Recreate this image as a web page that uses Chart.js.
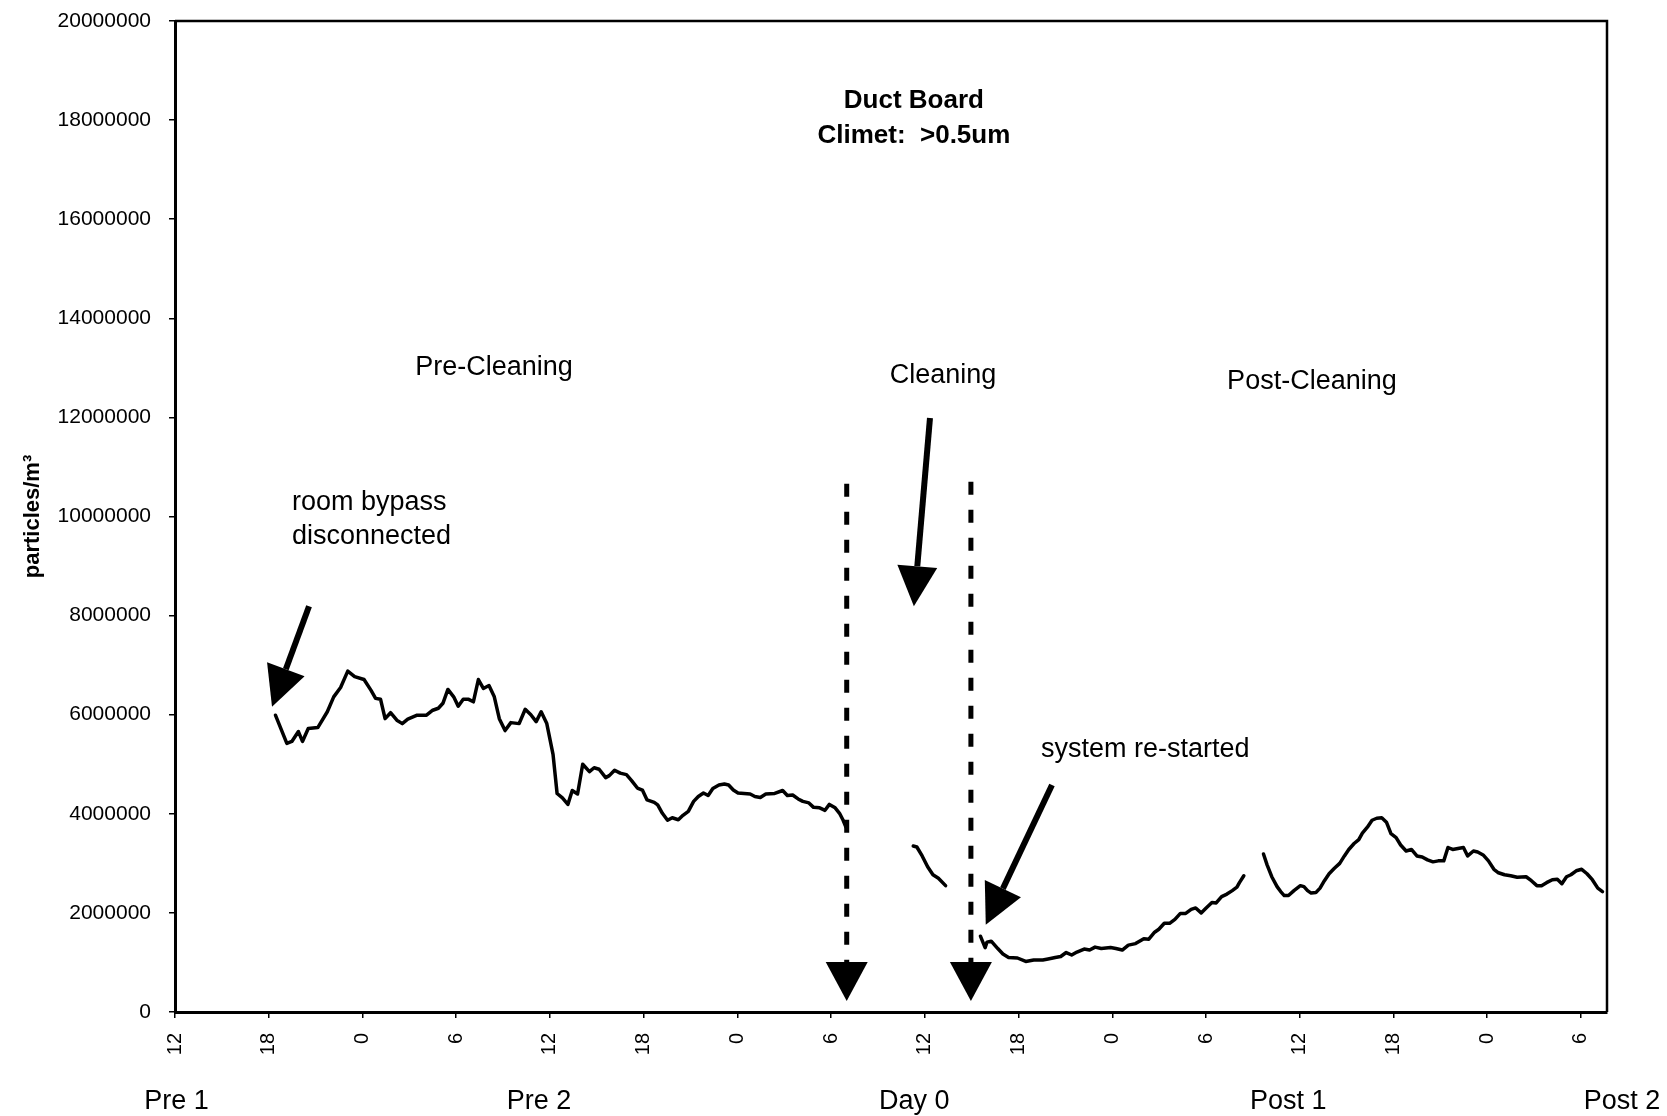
<!DOCTYPE html>
<html>
<head>
<meta charset="utf-8">
<script src="https://cdn.jsdelivr.net/npm/chart.js@4.4.1/dist/chart.umd.min.js"></script>
<style>
  html, body { margin: 0; padding: 0; background: #fff; }
  canvas { display: block; }
</style>
</head>
<body>
<canvas id="chart" width="1667" height="1116"></canvas>
<script>
// Hours since 12:00 on the first sampling day, and particle counts (>0.5um, particles/m3)
const preHours = [6.43, 7.16, 7.48, 7.9, 8.16, 8.53, 9.14, 9.75, 10.16, 10.6, 11.06, 11.5, 12.1, 12.55, 12.84, 13.16, 13.45, 13.8, 14.2, 14.55, 14.9, 15.5, 16.1, 16.5, 16.86, 17.15, 17.47, 17.84, 18.13, 18.45, 18.8, 19.1, 19.42, 19.74, 20.1, 20.44, 20.76, 21.13, 21.5, 22.03, 22.42, 22.78, 23.12, 23.44, 23.8, 24.2, 24.46, 24.8, 25.15, 25.43, 25.77, 26.1, 26.53, 26.83, 27.15, 27.57, 27.8, 28.14, 28.5, 28.9, 29.23, 29.6, 29.92, 30.22, 30.68, 30.9, 31.2, 31.53, 31.83, 32.22, 32.52, 32.86, 33.2, 33.5, 33.83, 34.13, 34.43, 34.82, 35.17, 35.44, 35.74, 36.04, 36.43, 36.82, 37.12, 37.47, 37.82, 38.39, 38.9, 39.2, 39.54, 39.89, 40.19, 40.58, 40.88, 41.27, 41.61, 41.89, 42.26, 42.54, 42.77, 42.95];
const preCounts = [5990000, 5420000, 5460000, 5660000, 5460000, 5720000, 5740000, 6060000, 6360000, 6550000, 6880000, 6770000, 6710000, 6490000, 6330000, 6310000, 5920000, 6040000, 5890000, 5820000, 5910000, 5990000, 5990000, 6090000, 6130000, 6230000, 6510000, 6360000, 6170000, 6310000, 6310000, 6260000, 6710000, 6530000, 6590000, 6360000, 5920000, 5680000, 5840000, 5820000, 6110000, 6000000, 5860000, 6060000, 5820000, 5200000, 4410000, 4320000, 4190000, 4470000, 4400000, 5000000, 4850000, 4930000, 4900000, 4730000, 4770000, 4880000, 4820000, 4790000, 4670000, 4520000, 4480000, 4280000, 4230000, 4180000, 4010000, 3870000, 3920000, 3880000, 3970000, 4050000, 4250000, 4350000, 4420000, 4370000, 4510000, 4580000, 4600000, 4580000, 4480000, 4420000, 4410000, 4400000, 4350000, 4330000, 4400000, 4410000, 4470000, 4370000, 4380000, 4300000, 4250000, 4220000, 4130000, 4120000, 4070000, 4190000, 4120000, 4010000, 3870000, 3730000];

const cleaningHours = [47.26, 47.49, 47.83, 48.18, 48.52, 48.87, 49.33];
const cleaningCounts = [3350000, 3330000, 3150000, 2930000, 2770000, 2700000, 2550000];

const restartHours = [51.56, 51.86, 51.98, 52.25, 52.67, 53.0, 53.36, 53.93, 54.46, 54.97, 55.55, 55.89, 56.35, 56.7, 57.05, 57.4, 57.74, 58.2, 58.55, 58.9, 59.3, 59.89, 60.23, 60.64, 61.03, 61.49, 62.02, 62.34, 62.71, 62.98, 63.33, 63.67, 64.01, 64.36, 64.7, 65.05, 65.34, 65.69, 66.01, 66.38, 66.65, 67.0, 67.34, 67.68, 67.98, 68.14, 68.42];
const restartCounts = [1530000, 1300000, 1410000, 1430000, 1280000, 1170000, 1100000, 1090000, 1020000, 1050000, 1050000, 1070000, 1100000, 1120000, 1200000, 1150000, 1210000, 1270000, 1250000, 1310000, 1280000, 1300000, 1280000, 1250000, 1350000, 1380000, 1480000, 1470000, 1610000, 1670000, 1790000, 1790000, 1870000, 1990000, 1990000, 2070000, 2100000, 2000000, 2100000, 2210000, 2200000, 2330000, 2380000, 2450000, 2520000, 2610000, 2750000];

const postHours = [69.68, 69.91, 70.21, 70.55, 70.78, 71.01, 71.28, 71.63, 72.04, 72.27, 72.5, 72.73, 73.03, 73.3, 73.58, 73.88, 74.22, 74.56, 74.86, 75.14, 75.48, 75.78, 76.01, 76.33, 76.63, 76.93, 77.25, 77.55, 77.84, 78.17, 78.46, 78.81, 79.15, 79.5, 79.84, 80.18, 80.53, 80.87, 81.22, 81.49, 81.79, 82.13, 82.48, 82.75, 83.12, 83.39, 83.74, 84.08, 84.43, 84.72, 85.11, 85.5, 85.92, 86.49, 86.83, 87.18, 87.48, 87.8, 88.17, 88.49, 88.78, 89.08, 89.36, 89.7, 90.05, 90.39, 90.73, 91.08, 91.38];
const postCounts = [3190000, 2970000, 2730000, 2530000, 2430000, 2350000, 2350000, 2450000, 2550000, 2530000, 2450000, 2400000, 2410000, 2500000, 2650000, 2790000, 2900000, 3000000, 3150000, 3280000, 3400000, 3480000, 3610000, 3730000, 3870000, 3910000, 3920000, 3830000, 3600000, 3520000, 3370000, 3250000, 3280000, 3150000, 3130000, 3070000, 3030000, 3050000, 3050000, 3320000, 3280000, 3300000, 3320000, 3150000, 3250000, 3230000, 3170000, 3050000, 2880000, 2810000, 2770000, 2750000, 2720000, 2730000, 2650000, 2550000, 2550000, 2610000, 2670000, 2680000, 2590000, 2730000, 2770000, 2850000, 2880000, 2790000, 2670000, 2500000, 2430000];

// Axis ticks and labels
const hourTicks = [0, 6, 12, 18, 24, 30, 36, 42, 48, 54, 60, 66, 72, 78, 84, 90];
const hourTickLabels = ['12', '18', '0', '6', '12', '18', '0', '6', '12', '18', '0', '6', '12', '18', '0', '6'];
const countTicks = [0, 2000000, 4000000, 6000000, 8000000, 10000000, 12000000, 14000000, 16000000, 18000000, 20000000];
const dayLabels = ['Pre 1', 'Pre 2', 'Day 0', 'Post 1', 'Post 2'];
const dayLabelHours = [0.1, 23.3, 47.33, 71.26, 92.63];

// Text notes placed in axis units (hours, particles/m3)
const notes = [
  { text: 'Duct Board', h: 47.3, v: 18390000, bold: true, align: 'center' },
  { text: 'Climet:  >0.5um', h: 47.3, v: 17680000, bold: true, align: 'center' },
  { text: 'Pre-Cleaning', h: 20.42, v: 13000000, bold: false, align: 'center' },
  { text: 'Cleaning', h: 49.16, v: 12840000, bold: false, align: 'center' },
  { text: 'Post-Cleaning', h: 72.78, v: 12730000, bold: false, align: 'center' },
  { text: 'room bypass', h: 7.49, v: 10290000, bold: false, align: 'left' },
  { text: 'disconnected', h: 7.49, v: 9590000, bold: false, align: 'left' },
  { text: 'system re-started', h: 55.43, v: 5290000, bold: false, align: 'left' }
];

// Arrows: tail and tip in axis units
const arrows = [
  { from: [8.58, 8190000], to: [6.21, 6160000], dashed: false },
  { from: [48.33, 11990000], to: [47.3, 8190000], dashed: false },
  { from: [56.14, 4580000], to: [51.9, 1760000], dashed: false },
  { from: [43.0, 10660000], to: [43.0, 220000], dashed: true },
  { from: [50.95, 10700000], to: [50.95, 220000], dashed: true }
];

const FONT = '"Liberation Sans", Arial, sans-serif';

function toPoints(hs, vs) {
  return hs.map((h, i) => ({ x: h, y: vs[i] }));
}

function lineSet(hs, vs) {
  return {
    data: toPoints(hs, vs),
    borderColor: '#000',
    borderWidth: 3.5,
    pointRadius: 0,
    tension: 0,
    fill: false,
    borderJoinStyle: 'round',
    borderCapStyle: 'round'
  };
}

function drawArrow(ctx, x1, y1, x2, y2, opts) {
  const ang = Math.atan2(y2 - y1, x2 - x1);
  const bx = x2 - opts.headLen * Math.cos(ang);
  const by = y2 - opts.headLen * Math.sin(ang);
  const hw = opts.headWidth / 2;
  ctx.save();
  ctx.strokeStyle = '#000';
  ctx.fillStyle = '#000';
  ctx.lineWidth = opts.width;
  ctx.setLineDash(opts.dash || []);
  ctx.beginPath();
  ctx.moveTo(x1, y1);
  ctx.lineTo(bx, by);
  ctx.stroke();
  ctx.setLineDash([]);
  ctx.beginPath();
  ctx.moveTo(x2, y2);
  ctx.lineTo(bx + hw * Math.sin(ang), by - hw * Math.cos(ang));
  ctx.lineTo(bx - hw * Math.sin(ang), by + hw * Math.cos(ang));
  ctx.closePath();
  ctx.fill();
  ctx.restore();
}

const decorations = {
  id: 'decorations',
  beforeDraw(chart) {
    const { ctx, width, height } = chart;
    ctx.save();
    ctx.fillStyle = '#fff';
    ctx.fillRect(0, 0, width, height);
    ctx.restore();
  },
  afterDraw(chart) {
    const { ctx, chartArea: a, scales: { x, y } } = chart;
    ctx.save();
    // top and right edges of the plot frame
    ctx.strokeStyle = '#000';
    ctx.lineWidth = 2.5;
    ctx.beginPath();
    ctx.moveTo(a.left, a.top);
    ctx.lineTo(a.right, a.top);
    ctx.lineTo(a.right, a.bottom);
    ctx.stroke();

    // notes
    ctx.fillStyle = '#000';
    ctx.textBaseline = 'middle';
    notes.forEach(n => {
      ctx.font = (n.bold ? 'bold 26px ' : '27px ') + FONT;
      ctx.textAlign = n.align;
      ctx.fillText(n.text, x.getPixelForValue(n.h), y.getPixelForValue(n.v));
    });

    // arrows
    arrows.forEach(ar => {
      const x1 = x.getPixelForValue(ar.from[0]), y1 = y.getPixelForValue(ar.from[1]);
      const x2 = x.getPixelForValue(ar.to[0]), y2 = y.getPixelForValue(ar.to[1]);
      if (ar.dashed) {
        drawArrow(ctx, x1, y1, x2, y2, { width: 5, headLen: 39, headWidth: 42, dash: [13, 15] });
      } else {
        drawArrow(ctx, x1, y1, x2, y2, { width: 6, headLen: 40, headWidth: 40 });
      }
    });

    // day labels under the time axis
    ctx.font = '27px ' + FONT;
    ctx.textAlign = 'center';
    ctx.textBaseline = 'middle';
    dayLabels.forEach((t, i) => {
      ctx.fillText(t, x.getPixelForValue(dayLabelHours[i]), a.bottom + 90);
    });
    ctx.restore();
  }
};

new Chart(document.getElementById('chart'), {
  type: 'line',
  data: {
    datasets: [
      lineSet(preHours, preCounts),
      lineSet(cleaningHours, cleaningCounts),
      lineSet(restartHours, restartCounts),
      lineSet(postHours, postCounts)
    ]
  },
  options: {
    responsive: false,
    devicePixelRatio: 1,
    animation: false,
    events: [],
    layout: { padding: { top: 21, right: 60, bottom: 0, left: 0 } },
    plugins: {
      legend: { display: false },
      tooltip: { enabled: false },
      title: { display: false }
    },
    scales: {
      x: {
        type: 'linear',
        min: 0,
        max: 91.67,
        afterBuildTicks: s => { s.ticks = hourTicks.map(v => ({ value: v })); },
        afterFit: s => { s.height = 104; s.paddingLeft = 0; s.paddingRight = 0; },
        ticks: {
          autoSkip: false,
          minRotation: 90,
          maxRotation: 90,
          padding: 15,
          color: '#000',
          font: { family: FONT, size: 20 },
          callback: (v, i) => hourTickLabels[i]
        },
        grid: { display: true, drawOnChartArea: false, drawTicks: true, tickLength: 6, color: '#000', lineWidth: 1.5 },
        border: { display: true, color: '#000', width: 3 }
      },
      y: {
        type: 'linear',
        min: 0,
        max: 20000000,
        afterBuildTicks: s => { s.ticks = countTicks.map(v => ({ value: v })); },
        afterFit: s => { s.width = 175; s.paddingTop = 0; s.paddingBottom = 0; },
        ticks: {
          padding: 18,
          color: '#000',
          font: { family: FONT, size: 21 },
          callback: v => String(v)
        },
        title: {
          display: true,
          text: 'particles/m³',
          color: '#000',
          font: { family: FONT, size: 22, weight: 'bold' },
          padding: { top: 20, bottom: 0 }
        },
        grid: { display: true, drawOnChartArea: false, drawTicks: true, tickLength: 6, color: '#000', lineWidth: 1.5 },
        border: { display: true, color: '#000', width: 3 }
      }
    }
  },
  plugins: [decorations]
});
</script>
</body>
</html>
